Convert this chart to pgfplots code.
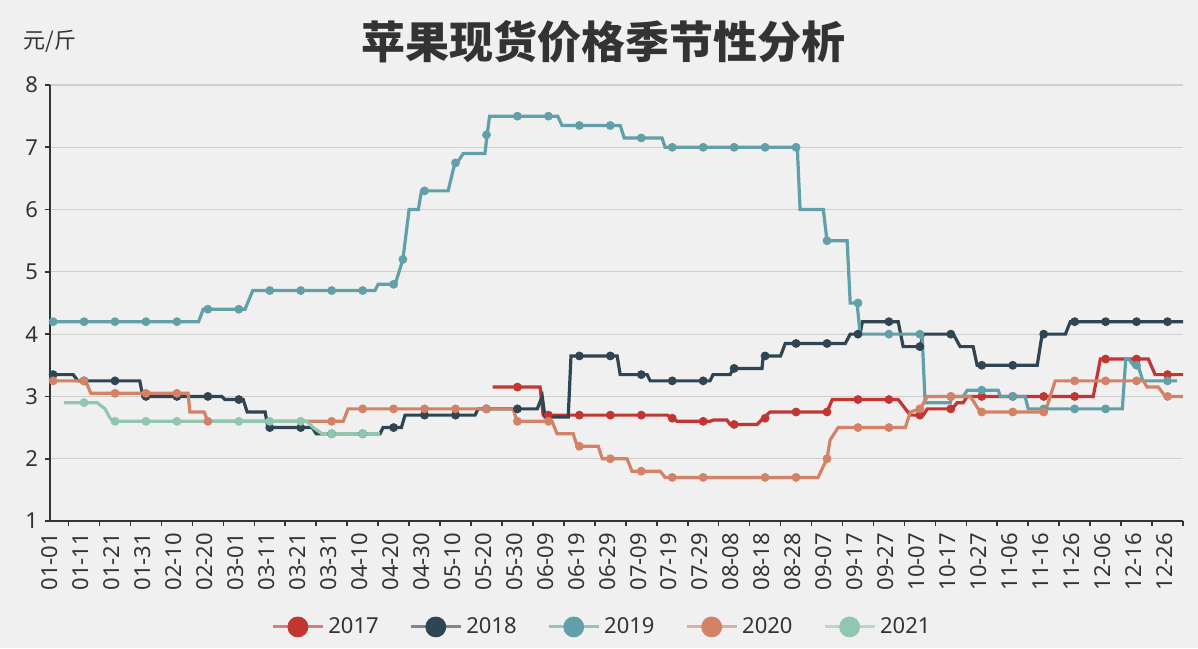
\documentclass[border=0pt]{standalone}
\usepackage{pgfplots}
\pgfplotsset{compat=1.18}
\usepackage{fontspec}
\setmainfont{Noto Sans}
\newfontfamily\cjk{Noto Sans CJK SC}
\definecolor{bgcol}{HTML}{F0F0F0}
\definecolor{txtcol}{HTML}{333333}
\definecolor{axcol}{HTML}{333333}
\definecolor{gridcol}{HTML}{CFCFCF}
\definecolor{c17}{HTML}{C23531}
\definecolor{c18}{HTML}{2F4554}
\definecolor{c19}{HTML}{61A0A8}
\definecolor{c20}{HTML}{D48265}
\definecolor{c21}{HTML}{91C7AE}
\begin{document}
\begin{tikzpicture}
\fill[bgcol] (0,0) rectangle (599pt,324pt);
\node[font=\cjk\bfseries\fontsize{22}{26}\selectfont, text=txtcol] at (301.5pt,303pt) {苹果现货价格季节性分析};
\node[font=\cjk\fontsize{11}{13}\selectfont, text=txtcol, anchor=west, inner sep=0pt] at (11.5pt,303.5pt) {元/斤};
\begin{axis}[
  at={(25pt,63.5pt)}, anchor=south west,
  scale only axis, width=566.5pt, height=218pt,
  xmin=0, xmax=366, ymin=1, ymax=8,
  axis x line*=bottom, axis y line*=left,
  axis line style={-, draw=axcol, line width=0.8pt},
  tick align=outside,
  major tick length=2.5pt, minor tick length=2.5pt,
  ytick={1,2,...,8},
  xtick={0,10,...,360},
  xticklabels={01-01,01-11,01-21,01-31,02-10,02-20,03-01,03-11,03-21,03-31,04-10,04-20,04-30,05-10,05-20,05-30,06-09,06-19,06-29,07-09,07-19,07-29,08-08,08-18,08-28,09-07,09-17,09-27,10-07,10-17,10-27,11-06,11-16,11-26,12-06,12-16,12-26},
  minor xtick={6,16,...,366},
  major x tick style={draw=none},
  minor x tick style={draw=axcol, line width=0.8pt},
  major y tick style={draw=axcol, line width=0.8pt},
  xticklabel style={rotate=90, anchor=east, font=\fontsize{11}{13}\selectfont, text=txtcol},
  yticklabel style={font=\fontsize{11}{13}\selectfont, text=txtcol},
  /pgf/number format/assume math mode=true,
  ymajorgrids, major grid style={draw=gridcol, line width=0.6pt},
  legend columns=5,
  legend style={draw=none, fill=none, at={(0.488,-0.243)}, anchor=center,
    font=\fontsize{11}{13}\selectfont, text=txtcol,
    /tikz/every even column/.append style={column sep=13.3pt}},
  legend image code/.code={\draw[#1, line width=1.5pt, opacity=0.6] (0pt,0pt) -- (25pt,0pt); \fill[#1] (12.5pt,0pt) circle (5pt);},
]
% lines
\addplot[c17, line width=1.6pt, forget plot] coordinates {(143,3.15) (158.3,3.15) (159.3,2.7) (199.4,2.7) (201,2.65) (202.6,2.6) (213.2,2.6) (214.2,2.62) (218.7,2.62) (219.7,2.55) (228.4,2.55) (230.4,2.65) (232.6,2.75) (251,2.75) (252.7,2.95) (274,2.95) (277.9,2.7) (282.1,2.7) (283.4,2.8) (291.4,2.8) (293.1,2.9) (295,2.9) (296.3,3.0) (337,3.0) (339.3,3.6) (354.8,3.6) (357,3.35) (366,3.35)};
\addplot[c18, line width=1.6pt, forget plot] coordinates {(0,3.35) (7.5,3.35) (9,3.25) (29,3.25) (30,3.0) (55.5,3.0) (56.5,2.95) (62.4,2.95) (63.7,2.75) (69.5,2.75) (70.4,2.5) (84.7,2.5) (86,2.4) (106.6,2.4) (107.6,2.5) (113.5,2.5) (114.7,2.7) (137.3,2.7) (138.3,2.8) (157.4,2.8) (159,3.0) (159.9,2.67) (167.4,2.67) (168.3,3.65) (183.2,3.65) (184.2,3.35) (192.9,3.35) (193.9,3.25) (213.2,3.25) (214.2,3.35) (219.7,3.35) (220.7,3.45) (230,3.45) (230.4,3.65) (236,3.65) (237.5,3.85) (256.9,3.85) (258.5,4.0) (261.7,4.0) (262.4,4.2) (274,4.2) (275.6,3.8) (281.1,3.8) (282.1,4.0) (291.8,4.0) (294,3.8) (298.2,3.8) (299.5,3.5) (318.9,3.5) (320.5,4.0) (328,4.0) (329.6,4.2) (366,4.2)};
\addplot[c19, line width=1.6pt, forget plot] coordinates {(0,4.2) (48,4.2) (49.5,4.4) (63,4.4) (65.5,4.7) (105,4.7) (106,4.8) (111.5,4.8) (114,5.2) (116,6.0) (119,6.0) (120,6.3) (128.6,6.3) (130.8,6.75) (131.5,6.75) (133.5,6.9) (140.5,6.9) (141.2,7.2) (142,7.5) (164,7.5) (165.4,7.35) (184.2,7.35) (185.5,7.15) (197.7,7.15) (198.7,7.0) (241.4,7.0) (242.3,6.0) (249.8,6.0) (251,5.5) (257.5,5.5) (258.5,4.5) (260.7,4.5) (261.7,4.0) (281.7,4.0) (282.7,2.9) (290.8,2.9) (291.4,3.0) (295,3.0) (296.3,3.1) (306.3,3.1) (307,3.0) (315,3.0) (316,2.8) (346.4,2.8) (347.5,3.6) (348.5,3.6) (350,3.5) (351.5,3.5) (353,3.25) (364,3.25)};
\addplot[c20, line width=1.6pt, forget plot] coordinates {(0,3.25) (11.5,3.25) (13.2,3.05) (44.6,3.05) (45.2,2.75) (49.8,2.75) (51,2.6) (94.7,2.6) (96.3,2.8) (149.6,2.8) (150.9,2.6) (162.2,2.6) (163.8,2.4) (169,2.4) (170.3,2.2) (177.1,2.2) (178.4,2.0) (186.4,2.0) (188,1.8) (197.1,1.8) (198.7,1.7) (248.1,1.7) (251,2.0) (252,2.3) (254.6,2.5) (276.3,2.5) (277.9,2.75) (281.1,2.8) (283.4,3.0) (297.3,3.0) (300.5,2.75) (321.5,2.75) (324.7,3.25) (353.2,3.25) (354.4,3.15) (358,3.15) (360.3,3.0) (366,3.0)};
\addplot[c21, line width=1.6pt, forget plot] coordinates {(4.5,2.9) (15.2,2.9) (17.8,2.8) (19.4,2.65) (20.4,2.6) (83,2.6) (85,2.5) (87.9,2.4) (106.6,2.4)};
% markers
\addplot[only marks, mark=*, mark size=2pt, c17, forget plot] coordinates {(151,3.15) (161,2.7) (171,2.7) (181,2.7) (191,2.7) (201,2.65) (211,2.6) (221,2.55) (231,2.65) (241,2.75) (251,2.75) (261,2.95) (271,2.95) (281,2.7) (291,2.8) (301,3.0) (311,3.0) (321,3.0) (331,3.0) (341,3.6) (351,3.6) (361,3.35)};
\addplot[only marks, mark=*, mark size=2pt, c18, forget plot] coordinates {(1,3.35) (11,3.25) (21,3.25) (31,3.0) (41,3.0) (51,3.0) (61,2.95) (71,2.5) (81,2.5) (91,2.4) (101,2.4) (111,2.5) (121,2.7) (131,2.7) (141,2.8) (151,2.8) (171,3.65) (181,3.65) (191,3.35) (201,3.25) (211,3.25) (221,3.45) (231,3.65) (241,3.85) (251,3.85) (261,4.0) (271,4.2) (281,3.8) (291,4.0) (301,3.5) (311,3.5) (321,4.0) (331,4.2) (341,4.2) (351,4.2) (361,4.2)};
\addplot[only marks, mark=*, mark size=2pt, c19, forget plot] coordinates {(1,4.2) (11,4.2) (21,4.2) (31,4.2) (41,4.2) (51,4.4) (61,4.4) (71,4.7) (81,4.7) (91,4.7) (101,4.7) (111,4.8) (114,5.2) (121,6.3) (131,6.75) (141,7.2) (151,7.5) (161,7.5) (171,7.35) (181,7.35) (191,7.15) (201,7.0) (211,7.0) (221,7.0) (231,7.0) (241,7.0) (251,5.5) (261,4.5) (271,4.0) (281,4.0) (291,3.0) (301,3.1) (311,3.0) (321,2.8) (331,2.8) (341,2.8) (351,3.5) (361,3.25)};
\addplot[only marks, mark=*, mark size=2pt, c20, forget plot] coordinates {(1,3.25) (11,3.25) (21,3.05) (31,3.05) (41,3.05) (51,2.6) (91,2.6) (101,2.8) (111,2.8) (121,2.8) (131,2.8) (141,2.8) (151,2.6) (161,2.6) (171,2.2) (181,2.0) (191,1.8) (201,1.7) (211,1.7) (231,1.7) (241,1.7) (251,2.0) (261,2.5) (271,2.5) (281,2.8) (291,3.0) (301,2.75) (311,2.75) (321,2.75) (331,3.25) (341,3.25) (351,3.25) (361,3.0)};
\addplot[only marks, mark=*, mark size=2pt, c21, forget plot] coordinates {(11,2.9) (21,2.6) (31,2.6) (41,2.6) (61,2.6) (71,2.6) (81,2.6) (91,2.4) (101,2.4)};
\addlegendimage{c17}\addlegendentry{2017}
\addlegendimage{c18}\addlegendentry{2018}
\addlegendimage{c19}\addlegendentry{2019}
\addlegendimage{c20}\addlegendentry{2020}
\addlegendimage{c21}\addlegendentry{2021}
\end{axis}
\pgfresetboundingbox
\useasboundingbox (0,0) rectangle (599pt,324pt);
\end{tikzpicture}
\end{document}
